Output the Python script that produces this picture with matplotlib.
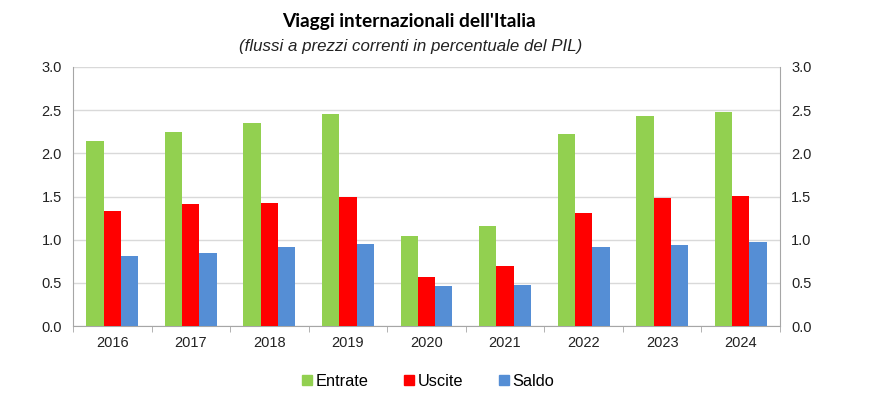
import numpy as np
import matplotlib
matplotlib.use('Agg')
import matplotlib.pyplot as plt
from matplotlib.patches import Patch

plt.rcParams['font.family'] = ['Liberation Sans', 'DejaVu Sans']

YEARS = ['2016', '2017', '2018', '2019', '2020', '2021', '2022', '2023', '2024']
ENTRATE = [2.14, 2.25, 2.35, 2.46, 1.04, 1.16, 2.22, 2.43, 2.48]
USCITE = [1.33, 1.41, 1.43, 1.50, 0.57, 0.69, 1.31, 1.48, 1.51]
SALDO = [0.81, 0.84, 0.91, 0.95, 0.46, 0.47, 0.91, 0.94, 0.97]
SERIES = ['Entrate', 'Uscite', 'Saldo']
COLORS = ['#92D050', '#FF0000', '#558ED5']

fig = plt.figure(figsize=(8.7, 4.01), dpi=100)
ax = fig.add_axes([73/870, 1 - 326/401, (780 - 73)/870, (326 - 67)/401])

x = np.arange(len(YEARS))
w = 0.22
for k, (vals, c) in enumerate(zip([ENTRATE, USCITE, SALDO], COLORS)):
    ax.bar(x + (k - 1) * w, vals, width=w, color=c, zorder=3)

ax.set_xlim(-0.5, len(YEARS) - 0.5)
ax.set_ylim(0, 3.0)
ax.set_yticks(np.arange(0, 3.01, 0.5))
ax.set_yticklabels([f'{v:.1f}' for v in np.arange(0, 3.01, 0.5)])
ax.yaxis.grid(True, color='#D9D9D9', lw=1, zorder=0)
ax.tick_params(axis='y', length=0, labelsize=10.5, labelright=True, pad=8,
               labelcolor='#222222')

ax.set_xticks(x)
ax.set_xticklabels(YEARS)
ax.set_xticks(np.arange(-0.5, len(YEARS)), minor=True)
ax.tick_params(axis='x', which='major', length=0, labelsize=10.5, pad=7,
               labelcolor='#222222')
ax.tick_params(axis='x', which='minor', length=4, color='#A6A6A6')

for s in ['left', 'right', 'bottom']:
    ax.spines[s].set_color('#A6A6A6')
ax.spines['top'].set_visible(False)

fig.text(0.47, 1 - 22/401, "Viaggi internazionali dell'Italia", ha='center',
         va='center', fontsize=13.8, fontweight='bold', family=['Lato', 'DejaVu Sans'])
fig.text(0.472, 1 - 46/401, '(flussi a prezzi correnti in percentuale del PIL)',
         ha='center', va='center', fontsize=12.2, style='italic', color='#222222')

handles = [Patch(color=c, label=s) for s, c in zip(SERIES, COLORS)]
fig.legend(handles=handles, loc='center', bbox_to_anchor=(0.492, 1 - 381/401),
           ncol=3, frameon=False, fontsize=11.8, handlelength=0.6, handleheight=0.6,
           handletextpad=0.2, columnspacing=2.2)

fig.savefig('out.png', dpi=100)
